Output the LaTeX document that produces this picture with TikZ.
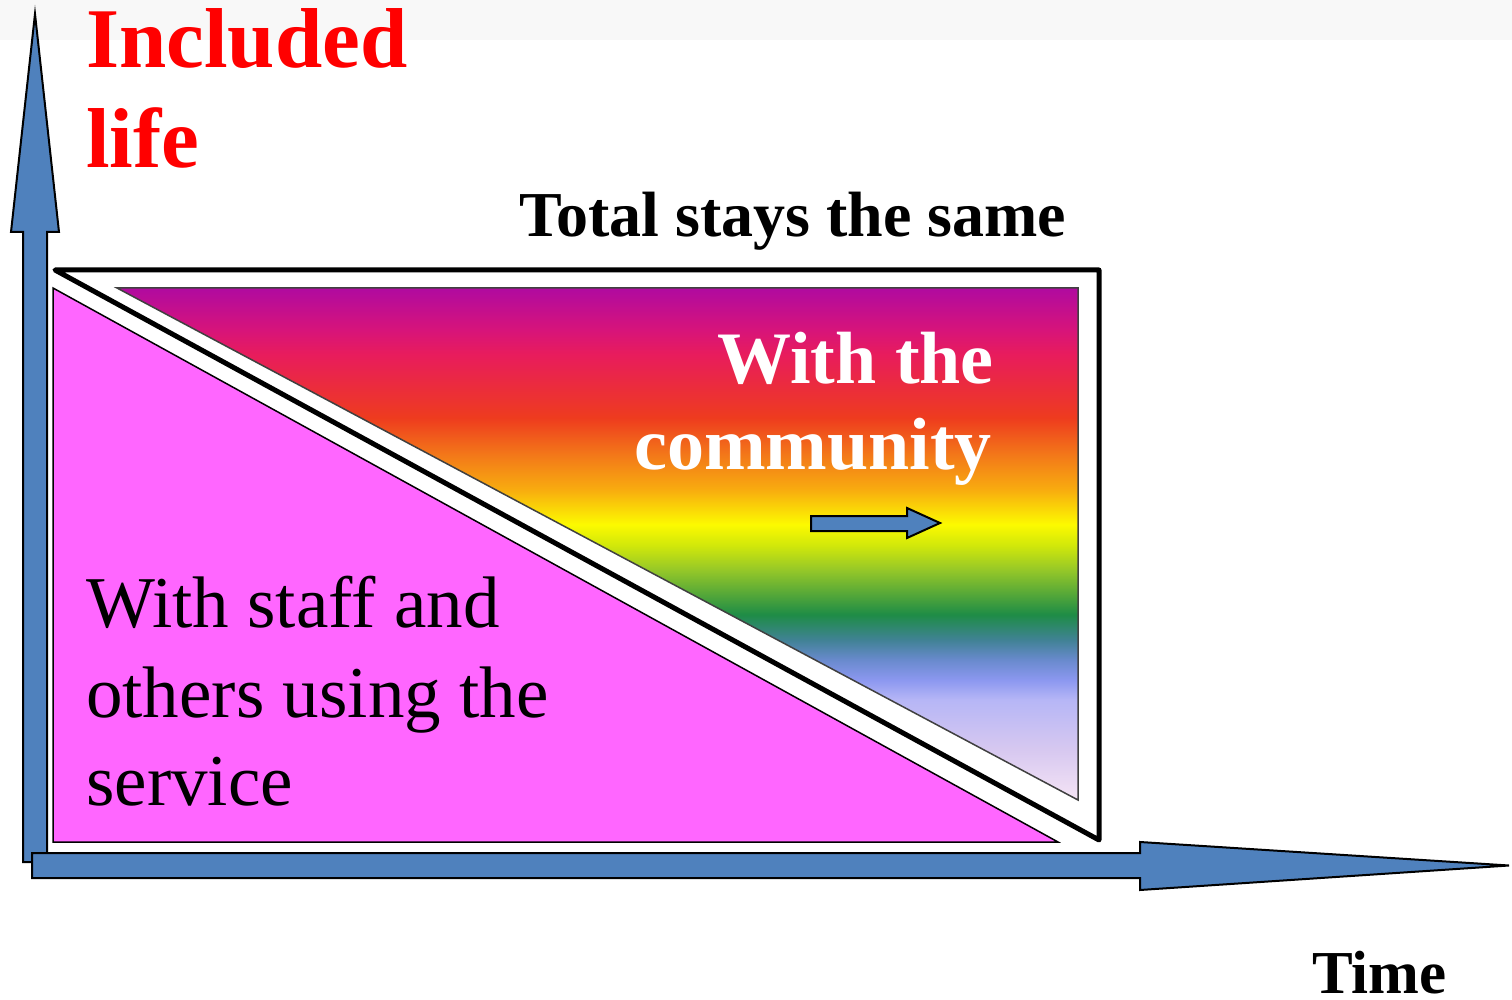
\documentclass[tikz,border=0pt]{standalone}
\usepackage{fontspec}
\setmainfont{Liberation Serif}
\definecolor{axisblue}{RGB}{79,129,189}
\definecolor{staffpink}{RGB}{255,102,255}
\definecolor{topband}{RGB}{248,248,248}
\definecolor{g01}{RGB}{245,228,245}
\definecolor{g02}{RGB}{215,200,240}
\definecolor{g03}{RGB}{182,182,246}
\definecolor{g04}{RGB}{140,152,240}
\definecolor{g05}{RGB}{105,138,205}
\definecolor{g06}{RGB}{65,130,150}
\definecolor{g07}{RGB}{30,140,70}
\definecolor{g08}{RGB}{150,200,40}
\definecolor{g09}{RGB}{210,232,10}
\definecolor{g10}{RGB}{252,250,0}
\definecolor{g11}{RGB}{248,172,15}
\definecolor{g12}{RGB}{243,120,25}
\definecolor{g13}{RGB}{238,60,30}
\definecolor{g14}{RGB}{232,28,92}
\definecolor{g15}{RGB}{215,20,122}
\definecolor{g16}{RGB}{176,10,160}
\pgfdeclareverticalshading{rainbowfade}{100bp}{%
color(0bp)=(g01); color(25bp)=(g01); color(29.9bp)=(g02); color(34.8bp)=(g03);
color(36.7bp)=(g04); color(38.7bp)=(g05); color(40.6bp)=(g06); color(43.1bp)=(g07);
color(47.5bp)=(g08); color(49.9bp)=(g09); color(51.9bp)=(g10); color(55.3bp)=(g11);
color(58.7bp)=(g12); color(62.3bp)=(g13); color(68.5bp)=(g14); color(70.9bp)=(g15);
color(75bp)=(g16); color(100bp)=(g16)}
\tikzset{
  axisarrow/.style={fill=axisblue, draw=black, line width=2pt, line join=miter},
  bigtitle/.style={font=\fontsize{85}{100}\selectfont\bfseries, text=red, inner sep=0pt, anchor=base west},
  totaltext/.style={font=\fontsize{64}{76}\selectfont\bfseries, inner sep=0pt, anchor=base west},
  commtext/.style={font=\fontsize{74}{86}\selectfont\bfseries, text=white, inner sep=0pt, anchor=base east},
  stafftext/.style={font=\fontsize{73}{88}\selectfont, inner sep=0pt, anchor=base west},
  timetext/.style={font=\fontsize{61}{72}\selectfont\bfseries, inner sep=0pt, anchor=base west},
}
\begin{document}
\begin{tikzpicture}[x=1pt,y=-1pt]
\useasboundingbox (0,0) rectangle (1512,1000);
\fill[white] (0,0) rectangle (1512,1000);
\fill[topband] (0,0) rectangle (1512,40);
% staff triangle
\draw[fill=staffpink, draw=black, line width=1.5pt] (53,288) -- (53,842) -- (1058,842) -- cycle;
% community triangle
\shade[shading=rainbowfade, draw=black!75, line width=1.5pt] (117,288) -- (1078,288) -- (1078,800) -- cycle;
% total frame
\draw[line width=5pt, line join=round] (55,270) -- (1099,270) -- (1099,840) -- cycle;
% vertical axis
\draw[axisarrow] (23,862) -- (23,232) -- (11,232) -- (35,14) -- (59,232) -- (47,232) -- (47,862) -- cycle;
% horizontal axis
\draw[axisarrow] (32,853) -- (1140,853) -- (1140,842) -- (1509,865.5) -- (1140,890) -- (1140,878) -- (32,878) -- cycle;
% small arrow
\draw[axisarrow] (811,516) -- (907,516) -- (907,508) -- (940,523) -- (907,538) -- (907,531) -- (811,531) -- cycle;
% texts
\node[bigtitle] (inc1) at (86,68) {Included};
\node[bigtitle] (inc2) at (86,168) {life};
\node[totaltext] (total) at (519,237) {Total stays the same};
\node[commtext] (comm1) at (994,383) {With the};
\node[commtext] (comm2) at (992,469) {community};
\node[stafftext] (staff1) at (86,627) {With staff and};
\node[stafftext] (staff2) at (86,717) {others using the};
\node[stafftext] (staff3) at (86,805) {service};
\node[timetext] (time) at (1312,993) {Time};
\end{tikzpicture}
\end{document}
